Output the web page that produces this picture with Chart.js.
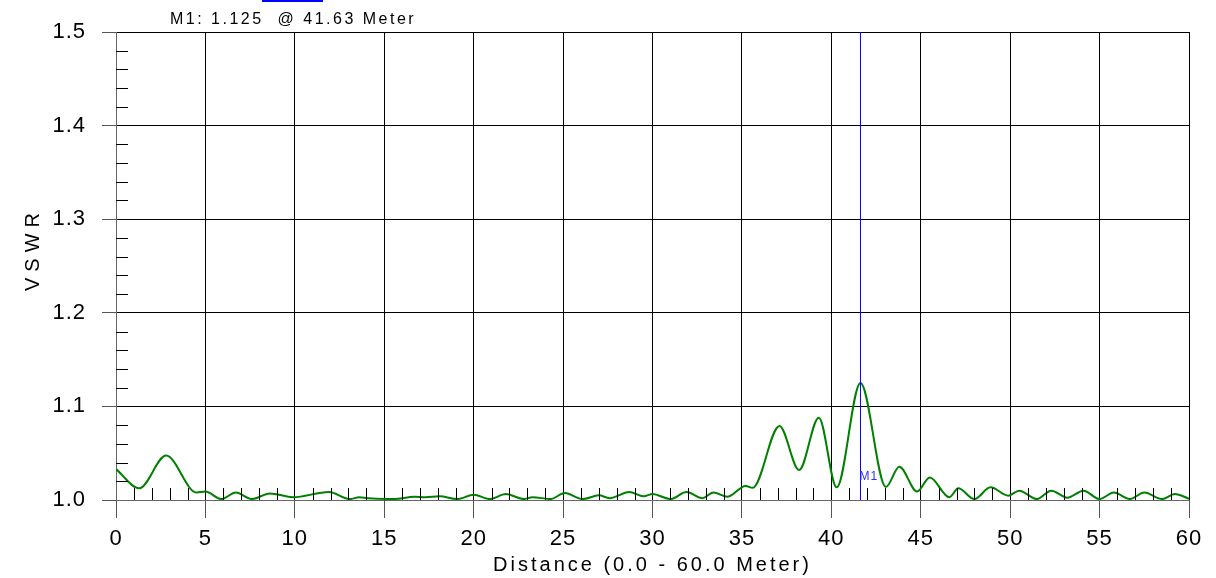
<!DOCTYPE html>
<html>
<head>
<meta charset="utf-8">
<script src="https://cdn.jsdelivr.net/npm/chart.js@4.4.1/dist/chart.umd.min.js"></script>
<style>
  body { margin: 0; background: #fff; }
  #wrap { width: 1216px; height: 578px; }
</style>
</head>
<body>
<div id="wrap"><canvas id="vswrChart" width="1216" height="578"></canvas></div>
<script>
// distance (m) and VSWR
const distance = [0, 1.3, 2.8, 4.5, 5.0, 5.9, 6.7, 7.6, 8.6, 9.9, 11.9, 13.1, 13.6, 14.1, 15.5, 16.7, 17.3, 18.1, 19.1, 20.0,
  20.9, 21.8, 22.8, 23.3, 24.3, 25.1, 26.1, 27.0, 27.6, 28.7, 29.5, 30.0, 31.0, 31.9, 32.8, 33.4, 34.2, 35.2, 35.6,
  37.1, 38.2, 39.3, 40.3, 41.63, 43.05, 43.8, 44.8, 45.5, 46.6, 47.1, 48.0, 48.9, 49.9, 50.5, 51.5, 52.3,
  53.2, 54.1, 55.0, 55.8, 56.7, 57.5, 58.5, 59.2, 60];
const vswr = [1.033, 1.0125, 1.0475, 1.008, 1.009, 1.001, 1.008, 1.001, 1.007, 1.003, 1.0085, 1.001, 1.003, 1.002, 1.001, 1.0035, 1.003, 1.004, 1.001, 1.0057,
  1.001, 1.0064, 1.001, 1.003, 1.001, 1.0075, 1.001, 1.005, 1.002, 1.0085, 1.004, 1.0064, 1.001, 1.0085, 1.002, 1.008, 1.0035, 1.015, 1.013,
  1.079, 1.032, 1.088, 1.0135, 1.125, 1.014, 1.0356, 1.009, 1.024, 1.003, 1.0125, 1.001, 1.0135, 1.0046, 1.01, 1.001, 1.01,
  1.0025, 1.01, 1.001, 1.008, 1.001, 1.008, 1.001, 1.0064, 1.0014];

const markerName = 'M1';
const markerDistance = 41.63;
const markerVswr = 1.125;

const xTitle = 'Distance (0.0 - 60.0 Meter)';
const yTitle = 'VSWR';

const FONT = "'Liberation Sans', Arial, sans-serif";

// minor ticks, titles and marker readout
const decor = {
  id: 'decor',
  beforeDraw(chart) {
    chart.ctx.letterSpacing = '1px';
  },
  afterDatasetsDraw(chart) {
    const ctx = chart.ctx;
    const xs = chart.scales.x, ys = chart.scales.y;
    const a = chart.chartArea;
    ctx.save();
    ctx.strokeStyle = '#000';
    ctx.lineWidth = 1;
    ctx.beginPath();
    for (let d = 1; d < 60; d++) {
      if (d % 5 === 0) continue;
      const x = Math.round(xs.getPixelForValue(d)) + 0.5;
      ctx.moveTo(x, a.bottom);
      ctx.lineTo(x, a.bottom - 12);
    }
    for (let i = 1; i < 25; i++) {
      if (i % 5 === 0) continue;
      const y = Math.round(ys.getPixelForValue(1 + i * 0.02)) + 0.5;
      ctx.moveTo(a.left, y);
      ctx.lineTo(a.left + 12, y);
    }
    ctx.stroke();

    // marker label
    ctx.fillStyle = '#3030ff';
    ctx.font = '12px ' + FONT;
    ctx.letterSpacing = '1px';
    ctx.textAlign = 'left';
    ctx.textBaseline = 'middle';
    ctx.fillText(markerName, xs.getPixelForValue(markerDistance) - 1, 477);
    ctx.restore();
  },
  afterDraw(chart) {
    const ctx = chart.ctx;
    const a = chart.chartArea;
    ctx.save();
    ctx.fillStyle = '#000';
    ctx.textBaseline = 'middle';

    ctx.font = '20px ' + FONT;
    ctx.letterSpacing = '3px';
    ctx.textAlign = 'center';
    ctx.fillText(xTitle, (a.left + a.right) / 2, 565);

    ctx.save();
    ctx.translate(33, 252);
    ctx.rotate(-Math.PI / 2);
    ctx.letterSpacing = '6px';
    ctx.fillText(yTitle, 3, 0);
    ctx.restore();

    ctx.font = '16px ' + FONT;
    ctx.letterSpacing = '2.5px';
    ctx.textAlign = 'left';
    ctx.fillText(markerName + ': ' + markerVswr.toFixed(3) + '  @ ' + markerDistance.toFixed(2) + ' Meter', 170, 20);

    // little blue tab at the top edge
    ctx.fillStyle = '#0000ff';
    ctx.fillRect(262, 0, 61, 2);
    ctx.restore();
  }
};

const ctx = document.getElementById('vswrChart').getContext('2d');
const vswrChart = new Chart(ctx, {
  type: 'line',
  data: {
    datasets: [{
      data: distance.map((d, i) => ({ x: d, y: vswr[i] })),
      borderColor: '#008000',
      borderWidth: 2,
      pointRadius: 0,
      cubicInterpolationMode: 'monotone',
      order: 1
    }, {
      data: [{ x: markerDistance, y: 1.0 }, { x: markerDistance, y: 1.5 }],
      borderColor: '#0000ff',
      borderWidth: 1,
      pointRadius: 0,
      order: 0
    }]
  },
  options: {
    responsive: false,
    animation: false,
    devicePixelRatio: 1,
    layout: { padding: { top: 32, right: 27, left: 0, bottom: 0 } },
    plugins: { legend: { display: false }, tooltip: { enabled: false } },
    scales: {
      x: {
        type: 'linear',
        min: 0,
        max: 60,
        ticks: { stepSize: 5, color: '#000', padding: 8, maxRotation: 0, font: { family: FONT, size: 22 } },
        grid: { color: '#000', lineWidth: 1, tickLength: 18, tickColor: '#555' },
        border: { color: '#666', width: 1 },
        afterFit(s) { s.height = 78; }
      },
      y: {
        min: 1.0,
        max: 1.5,
        ticks: { stepSize: 0.1, color: '#000', padding: 16, font: { family: FONT, size: 22 },
          callback: v => v.toFixed(1) },
        grid: { color: '#000', lineWidth: 1, tickLength: 14, tickColor: '#555' },
        border: { color: '#666', width: 1 },
        afterFit(s) { s.width = 116; }
      }
    }
  },
  plugins: [decor]
});
</script>
</body>
</html>
